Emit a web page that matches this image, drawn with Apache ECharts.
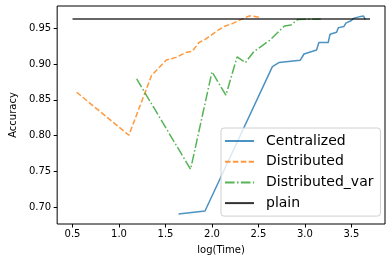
<!DOCTYPE html>
<html><head><meta charset="utf-8">
<script src="https://cdn.jsdelivr.net/npm/echarts@6/dist/echarts.min.js"></script>
<style>html,body{margin:0;padding:0;background:#fff;}#c{width:392px;height:262px;}</style>
</head><body><div id="c"></div>
<script>
var centralX = [1.64, 1.925, 2.65, 2.72, 2.95, 2.99, 3.125, 3.15, 3.25, 3.27, 3.34, 3.36, 3.42, 3.44, 3.50, 3.52, 3.60, 3.63, 3.65];
var centralY = [0.6906, 0.6948, 0.8964, 0.902, 0.9053, 0.914, 0.9197, 0.930, 0.930, 0.9416, 0.9444, 0.9508, 0.9525, 0.957, 0.9607, 0.9637, 0.9665, 0.967, 0.962];
var distX = [0.545, 1.106, 1.35, 1.51, 1.615, 1.72, 1.79, 1.86, 1.93, 2.04, 2.13, 2.23, 2.32, 2.40, 2.44, 2.51];
var distY = [0.8606, 0.8006, 0.884, 0.9056, 0.9093, 0.916, 0.918, 0.930, 0.9347, 0.945, 0.9525, 0.957, 0.9626, 0.967, 0.967, 0.9652];
var varX = [1.19, 1.77, 2.0, 2.15, 2.27, 2.36, 2.45, 2.62, 2.78, 2.85, 2.92, 3.17];
var varY = [0.8792, 0.7531, 0.889, 0.8565, 0.910, 0.902, 0.9173, 0.933, 0.9532, 0.9546, 0.962, 0.963];
var plainX = [0.5, 3.7];
var plainY = [0.963, 0.963];
var xTicks = [0.5, 1.0, 1.5, 2.0, 2.5, 3.0, 3.5];
var yTicks = [0.70, 0.75, 0.80, 0.85, 0.90, 0.95];

function pairs(xs, ys) { return xs.map(function (x, i) { return [x, ys[i]]; }); }
var font = 'DejaVu Sans';
function mk(name, xs, ys, color, type) {
  return {
    name: name, type: 'line', data: pairs(xs, ys), showSymbol: false, symbol: 'none',
    lineStyle: { color: color, width: 1.5, type: type, opacity: 0.8 },
    itemStyle: { color: color, opacity: 0.8 }, animation: false, silent: true
  };
}
var chart = echarts.init(document.getElementById('c'), null, { renderer: 'canvas' });
chart.setOption({
  backgroundColor: '#fff',
  animation: false,
  grid: { left: 50, right: 7, top: 6, bottom: 38, show: true, borderColor: '#000', borderWidth: 1, backgroundColor: 'transparent' },
  xAxis: {
    type: 'value', min: 0.335, max: 3.861,
    axisLine: { show: false },
    splitLine: { show: false },
    axisTick: { show: true, length: 3.5, inside: false, customValues: xTicks, lineStyle: { color: '#000' } },
    axisLabel: { customValues: xTicks, color: '#000', fontFamily: font, fontSize: 10, margin: 5, formatter: function (v) { return v.toFixed(1); } },
    name: 'log(Time)', nameLocation: 'middle', nameGap: 21, nameTextStyle: { color: '#000', fontFamily: font, fontSize: 10 }
  },
  yAxis: {
    type: 'value', min: 0.6767, max: 0.981,
    axisLine: { show: false },
    splitLine: { show: false },
    axisTick: { show: true, length: 3.5, inside: false, customValues: yTicks, lineStyle: { color: '#000' } },
    axisLabel: { customValues: yTicks, color: '#000', fontFamily: font, fontSize: 10, margin: 6, formatter: function (v) { return v.toFixed(2); } },
    name: 'Accuracy', nameLocation: 'middle', nameGap: 36, nameTextStyle: { color: '#000', fontFamily: font, fontSize: 10 }
  },
  legend: {
    orient: 'vertical', left: 221, top: 128,
    padding: [6, 7, 6, 3],
    itemWidth: 29, itemHeight: 14, itemGap: 6.7,
    itemStyle: { opacity: 0 },
    backgroundColor: 'rgba(255,255,255,0.8)', borderColor: '#d0d0d0', borderWidth: 1, borderRadius: 3,
    textStyle: { fontFamily: font, fontSize: 14, color: '#000', padding: [0, 0, 0, 7] },
    data: ['Centralized', 'Distributed', 'Distributed_var', 'plain']
  },
  series: [
    mk('Centralized', centralX, centralY, '#1f77b4', 'solid'),
    mk('Distributed', distX, distY, '#ff7f0e', [5.5, 2.4]),
    mk('Distributed_var', varX, varY, '#2ca02c', [9.6, 2.4, 1.5, 2.4]),
    mk('plain', plainX, plainY, '#000000', 'solid')
  ]
});
</script></body></html>
